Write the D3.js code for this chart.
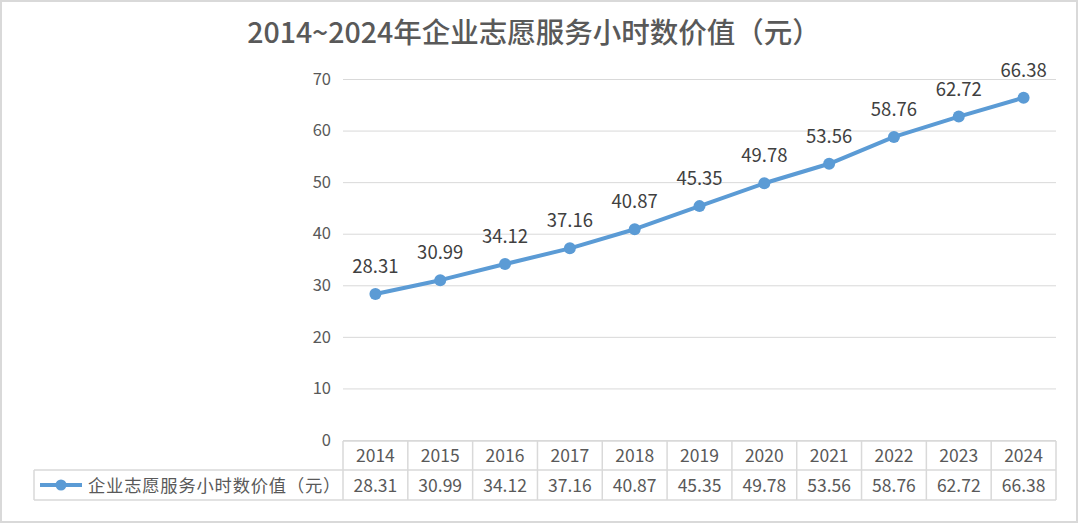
<!DOCTYPE html>
<html><head><meta charset="utf-8">
<script src="https://cdn.jsdelivr.net/npm/d3@7"></script>
<style>
html,body{margin:0;padding:0;background:#fff;}
svg{display:block;}
text{font-family:"Noto Sans CJK SC","Noto Sans",sans-serif;}
</style></head>
<body>
<svg id="chart" width="1080" height="526"></svg>
<script>
const title = "2014~2024年企业志愿服务小时数价值（元）";
const seriesName = "企业志愿服务小时数价值（元）";
const years = ["2014","2015","2016","2017","2018","2019","2020","2021","2022","2023","2024"];
const values = [28.31,30.99,34.12,37.16,40.87,45.35,49.78,53.56,58.76,62.72,66.38];
const yTicks = [0,10,20,30,40,50,60,70];

(function(){
const svg = d3.select("#chart");
const W = 1080, H = 526;
const pL = 343, pR = 1056, pT = 79, pB = 440;
const lineColor = "#5B9BD5";

svg.append("rect").attr("x",1).attr("y",1).attr("width",W-4).attr("height",H-5)
  .attr("fill","#fff").attr("stroke","#d9d9d9").attr("stroke-width",2);

svg.append("text").attr("x",534).attr("y",43).attr("text-anchor","middle")
  .attr("font-size",28.5).attr("fill","#595959").attr("font-weight",500).text(title);

const x = d3.scaleBand().domain(years).range([pL,pR]);
const y = d3.scaleLinear().domain([0,70]).range([pB,pT]);

const yAxis = d3.axisLeft(y).tickValues(yTicks).tickSize(-(pR-pL)).tickPadding(12);
const gy = svg.append("g").attr("transform",`translate(${pL},0)`).call(yAxis);
gy.select(".domain").remove();
gy.selectAll(".tick line").attr("stroke","#d9d9d9").attr("stroke-width",1);
gy.selectAll(".tick text").attr("font-size",16.5).attr("fill","#595959")
  .attr("font-family","'Noto Sans CJK SC','Noto Sans',sans-serif");

const cx = (i)=>x(years[i])+x.bandwidth()/2;
const line = d3.line().x((d,i)=>cx(i)).y(d=>y(d));
svg.append("path").datum(values).attr("d",line).attr("fill","none")
  .attr("stroke",lineColor).attr("stroke-width",4).attr("stroke-linejoin","round");
svg.selectAll("circle.pt").data(values).enter().append("circle").attr("class","pt")
  .attr("cx",(d,i)=>cx(i)).attr("cy",d=>y(d)).attr("r",6).attr("fill",lineColor);
svg.selectAll("text.lbl").data(values).enter().append("text").attr("class","lbl")
  .attr("x",(d,i)=>cx(i)).attr("y",d=>y(d)-21)
  .attr("text-anchor","middle").attr("font-size",18.5).attr("fill","#404040")
  .text(d=>d.toFixed(2));

const r0 = 441, r1 = 470, r2 = 500, legLeft = 34;
const tg = svg.append("g").attr("stroke","#d9d9d9").attr("stroke-width",1.5);
tg.append("line").attr("x1",pL).attr("x2",pR).attr("y1",r0).attr("y2",r0);
tg.append("line").attr("x1",legLeft).attr("x2",pR).attr("y1",r1).attr("y2",r1);
tg.append("line").attr("x1",legLeft).attr("x2",pR).attr("y1",r2).attr("y2",r2);
tg.append("line").attr("x1",legLeft).attr("x2",legLeft).attr("y1",r1).attr("y2",r2);
const bounds = years.map(d=>x(d)).concat([pR]);
tg.selectAll("line.v").data(bounds).enter().append("line").attr("class","v")
  .attr("x1",d=>d).attr("x2",d=>d).attr("y1",r0).attr("y2",r2);

svg.selectAll("text.yr").data(years).enter().append("text").attr("class","yr")
  .attr("x",d=>x(d)+x.bandwidth()/2).attr("y",(r0+r1)/2+6.5).attr("text-anchor","middle")
  .attr("font-size",17.5).attr("fill","#595959").text(d=>d);
svg.selectAll("text.val").data(values).enter().append("text").attr("class","val")
  .attr("x",(d,i)=>cx(i)).attr("y",(r1+r2)/2+6.5).attr("text-anchor","middle")
  .attr("font-size",17.5).attr("fill","#595959").text(d=>d.toFixed(2));

const ly = (r1+r2)/2;
svg.append("line").attr("x1",40).attr("x2",82).attr("y1",ly).attr("y2",ly)
  .attr("stroke",lineColor).attr("stroke-width",4);
svg.append("circle").attr("cx",61).attr("cy",ly).attr("r",5.5).attr("fill",lineColor);
svg.append("text").attr("x",88).attr("y",ly+6.5).attr("font-size",17.3).attr("letter-spacing",0.8)
  .attr("fill","#595959").text(seriesName);
})();
</script>
</body></html>
